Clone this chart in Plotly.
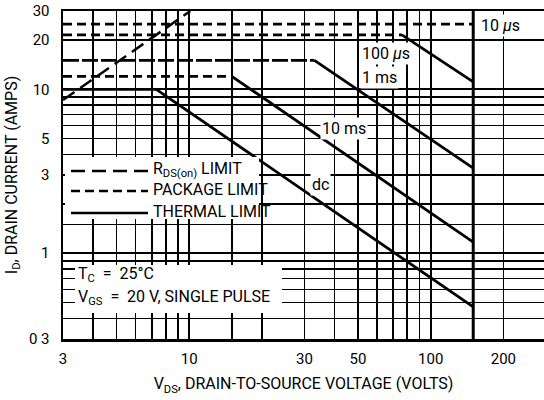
import plotly.graph_objects as go
import math

# ---------------- data ----------------
# Safe operating area curves: package-limited plateau then thermal-limited slope
curve_names = ["10 µs", "100 µs", "1 ms", "10 ms", "dc"]
package_limit_a = [25, 21.5, 15, 12, 10]      # plateau current (A)
bend_v = [150, 76, 33, 15, 7.3]               # voltage where thermal limit starts (V)
end_a = [25, 11.1, 3.3, 1.17, 0.47]           # current at max voltage (A)
v_min = 3
v_max = 150

# RDS(on) limit line
rds_v = [3, 10.1]
rds_i = [8.6, 30]

# axis ticks / grid
x_grid = [3, 4, 5, 6, 7, 8, 9, 10, 15, 20, 30, 40, 50, 60, 70, 80, 90, 100, 150, 200, 300]
x_labels = {3: "3", 10: "10", 30: "30", 50: "50", 100: "100", 200: "200"}
y_grid = [0.3, 0.4, 0.5, 0.6, 0.7, 0.8, 0.9, 1, 1.5, 2, 3, 4, 5, 6, 7, 8, 9, 10, 20, 30]
y_labels = {0.3: "0 3", 1: "1", 3: "3", 5: "5", 10: "10", 20: "20", 30: "30"}

FONT = "Roboto, Liberation Sans, sans-serif"

# ---------------- layout geometry (page pixels) ----------------
OFF = 0                      # body margin removed by the post script
PAGE_W, PAGE_H = 544, 400
W, H = PAGE_W - OFF, PAGE_H - OFF
PL, PT, PB = 63, 11, 339     # plot-area edges on the page
L, T, R = PL - OFF, PT - OFF, 0
B = H - T - (PB - PT)
PW, PH = W - L - R, PB - PT


def px(x):
    return (x - PL) / PW


def py(y):
    return (PB - y) / PH


fig = go.Figure()

# RDS(on) limit
fig.add_trace(go.Scatter(x=rds_v, y=rds_i, mode="lines",
                         line=dict(color="black", width=2.5, dash="14px,7px"),
                         showlegend=False, hoverinfo="skip"))

for name, pa, bv, ea in zip(curve_names, package_limit_a, bend_v, end_a):
    dash = "9px,5px"
    if name == "1 ms":
        dash = "16px,3px"
    if name == "dc":
        dash = "solid"
    fig.add_trace(go.Scatter(x=[v_min, bv], y=[pa, pa], mode="lines",
                             line=dict(color="black", width=2.7, dash=dash),
                             showlegend=False, hoverinfo="skip"))
    if bv < v_max:
        fig.add_trace(go.Scatter(x=[bv, v_max], y=[pa, ea], mode="lines",
                                 line=dict(color="black", width=2.8),
                                 showlegend=False, hoverinfo="skip"))

shapes = []
# heavy grid line at max voltage
shapes.append(dict(type="line", xref="x", yref="paper", x0=v_max, x1=v_max, y0=0, y1=1,
                   line=dict(color="black", width=3), layer="below"))
# white boxes behind the legend and notes
shapes.append(dict(type="rect", xref="paper", yref="paper", x0=px(65), x1=px(259),
                   y0=py(219), y1=py(157), fillcolor="white", line=dict(width=0), layer="above"))
shapes.append(dict(type="rect", xref="paper", yref="paper", x0=px(75), x1=px(282),
                   y0=py(313), y1=py(265), fillcolor="white", line=dict(width=0), layer="above"))
# legend samples
leg_rows = [(171, "14px,7px", "R<sub>DS(on)</sub> LIMIT"),
            (191, "9px,5px", "PACKAGE LIMIT"),
            (213, "solid", "THERMAL LIMIT")]
annotations = []
for yy, dsh, txt in leg_rows:
    shapes.append(dict(type="line", xref="paper", yref="paper", x0=px(71), x1=px(148),
                       y0=py(yy), y1=py(yy), line=dict(color="black", width=2.7, dash=dsh),
                       layer="above"))
    annotations.append(dict(xref="paper", yref="paper", x=px(151), y=py(yy - 2), text=txt,
                            showarrow=False, xanchor="left", yanchor="middle",
                            font=dict(family=FONT, size=16, color="black")))

notes = [(274, "T<sub>C</sub>  =  25°C"),
         (297, "V<sub>GS</sub>  =  20 V, SINGLE PULSE")]
for yy, txt in notes:
    annotations.append(dict(xref="paper", yref="paper", x=px(76), y=py(yy), text=txt,
                            showarrow=False, xanchor="left", yanchor="middle",
                            font=dict(family=FONT, size=16, color="black")))

curve_labels = [(479, 25, "10 <i>µ</i>s", "left"),
                (386, 53, "100 <i>µ</i>s", "center"),
                (379, 78, "1 ms", "center"),
                (344, 128, "10 ms", "center"),
                (320, 184, "dc", "center")]
for xx, yy, txt, anc in curve_labels:
    annotations.append(dict(xref="paper", yref="paper", x=px(xx), y=py(yy), text=txt,
                            showarrow=False, xanchor=anc, yanchor="middle",
                            bgcolor="white", borderpad=1,
                            font=dict(family=FONT, size=16, color="black")))

fig.update_layout(
    width=W, height=H,
    margin=dict(l=L, r=R, t=T, b=B, autoexpand=False),
    paper_bgcolor="white", plot_bgcolor="white",
    font=dict(family=FONT, size=15, color="black"),
    shapes=shapes, annotations=annotations,
    showlegend=False,
)

fig.update_xaxes(
    type="log", range=[math.log10(3), math.log10(294.6)],
    tickmode="array", tickvals=x_grid,
    ticktext=[x_labels.get(v, "") for v in x_grid],
    showgrid=True, gridcolor="black", gridwidth=1.6,
    showline=True, linecolor="black", linewidth=2.5, mirror=True,
    ticks="", ticklabelstandoff=4, ticklabeloverflow="allow", automargin=False,
    tickfont=dict(family=FONT, size=15, color="black"),
    zeroline=False,
    title=dict(text="V<sub>DS</sub>, DRAIN-TO-SOURCE VOLTAGE (VOLTS)",
               font=dict(family=FONT, size=16, color="black"), standoff=12),
)
fig.update_yaxes(
    type="log", range=[math.log10(0.3) - 0.0005, math.log10(30) + 0.0005],
    tickmode="array", tickvals=y_grid,
    ticktext=[y_labels.get(v, "") for v in y_grid],
    showgrid=True, gridcolor="black", gridwidth=1.6,
    showline=True, linecolor="black", linewidth=2.5, mirror=True,
    ticks="", ticklabelstandoff=8, ticklabeloverflow="allow", automargin=False,
    tickfont=dict(family=FONT, size=15, color="black"),
    zeroline=False,
    title=dict(text="I<sub>D</sub>, DRAIN CURRENT (AMPS)",
               font=dict(family=FONT, size=16, color="black"), standoff=8),
)

fig.write_html("out.html",
               config={"displayModeBar": False, "staticPlot": True},
               post_script="document.body.style.margin='0px';document.body.style.overflow='hidden';")
